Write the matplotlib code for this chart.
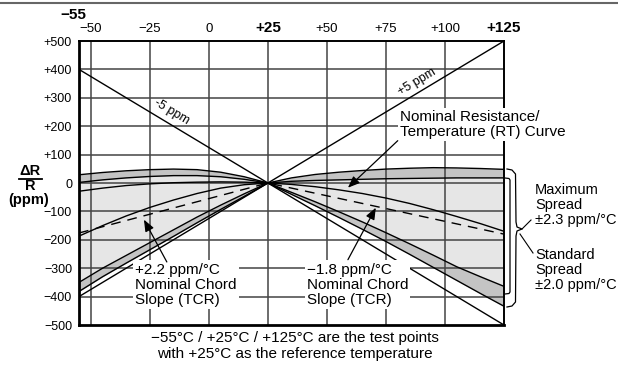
import numpy as np
import matplotlib
matplotlib.use("Agg")
import matplotlib.pyplot as plt
from matplotlib.lines import Line2D

plt.rcParams['font.family'] = ['Liberation Sans', 'DejaVu Sans']

# ---- data ----
temps = [-55, -45, -35, -25, -15, -5, 5, 15, 25, 35, 45, 55, 65, 75, 85, 95, 105, 115, 125]
max_upper = [29, 37, 43, 47, 49, 47, 38, 22, 0, 18, 30, 38, 44, 49, 52, 54, 53, 51, 48]
std_upper = [2, 11, 18, 23, 26, 26, 22, 13, 0, 6, 9, 11, 13, 15, 16, 17, 18, 18, 18]
nominal_rt = [-187, -150, -116, -86, -60, -37, -18, -6, 0, -5, -13, -24, -37, -53, -72, -94, -118, -143, -170]
chord_temps = [-55, 25, 125]
chord_vals = [-176, 0, -180]
std_lower = [-350, -300, -255, -210, -165, -120, -78, -38, 0, -33, -66, -101, -137, -175, -214, -254, -295, -330, -364]
max_lower = [-382, -330, -282, -235, -188, -140, -93, -47, 0, -40, -80, -121, -163, -206, -251, -297, -343, -389, -434]
aux_left = [-29, -18, -9, -3, 1, 3, 4, 3, 0]
plus5 = [-400, 500]
minus5 = [400, -500]
line_temps = [-55, 125]

xticks = [-50, -25, 0, 25, 50, 75, 100, 125]
xtick_labels = ['\u221250', '\u221225', '0', '+25', '+50', '+75', '+100', '+125']
yticks = [500, 400, 300, 200, 100, 0, -100, -200, -300, -400, -500]
ytick_labels = ['+500', '+400', '+300', '+200', '+100', '0', '\u2212100', '\u2212200',
                '\u2212300', '\u2212400', '\u2212500']

W, H = 618, 370
fig = plt.figure(figsize=(W / 100, H / 100), dpi=100)
L, R, T, B = 79, 504, 41, 325
ax = fig.add_axes([L / W, 1 - B / H, (R - L) / W, (B - T) / H])
ax.set_xlim(-55, 125)
ax.set_ylim(-500, 500)

grid_c = '#444444'
for x in [-50, -25, 0, 25, 50, 75, 100]:
    ax.axvline(x, color=grid_c, lw=1.1, zorder=1)
for y in [400, 300, 200, 100, 0, -100, -200, -300, -400]:
    ax.axhline(y, color=grid_c, lw=1.1, zorder=1)

light = '#e6e6e6'
dark = '#c4c4c4'
t = np.array(temps)
ax.fill_between(t, max_lower, max_upper, color=light, zorder=0.5, lw=0)
ax.fill_between(t, std_upper, max_upper, color=dark, zorder=0.6, lw=0)
ax.fill_between(t, max_lower, std_lower, color=dark, zorder=0.6, lw=0)

lk = dict(color='black', lw=1.0, zorder=3)
for s in [max_upper, std_upper, nominal_rt, std_lower, max_lower]:
    ax.plot(t, s, **lk)
ax.plot(temps[:9], aux_left, **lk)
ax.plot(chord_temps, chord_vals, color='black', lw=1.0, dashes=(7, 5), zorder=3)
ax.plot(line_temps, plus5, **lk)
ax.plot(line_temps, minus5, **lk)

for side in ['left', 'bottom']:
    ax.spines[side].set_linewidth(2.0)
for side in ['top', 'right']:
    ax.spines[side].set_linewidth(1.4)

ax.xaxis.tick_top()
ax.set_xticks(xticks)
ax.set_xticklabels(xtick_labels)
ax.tick_params(axis='x', length=0, pad=4, labelsize=9.5)
for lbl in ax.get_xticklabels():
    if lbl.get_text() in ('+25', '+125'):
        lbl.set_fontweight('bold')
        lbl.set_fontsize(11)
ax.set_yticks(yticks)
ax.set_yticklabels(ytick_labels)
ax.tick_params(axis='y', length=0, pad=5, labelsize=9)

fig.text(60 / W, 1 - 15 / H, '\u221255', fontsize=11, fontweight='bold', ha='left', va='center')

# y label
fig.text(30 / W, 1 - 171 / H, '\u0394R', fontsize=10.5, fontweight='bold', ha='center', va='center')
fig.add_artist(Line2D([19 / W, 42 / W], [1 - 178.5 / H, 1 - 178.5 / H], color='black', lw=1.3))
fig.text(30 / W, 1 - 186 / H, 'R', fontsize=10.5, fontweight='bold', ha='center', va='center')
fig.text(29 / W, 1 - 200 / H, '(ppm)', fontsize=10.5, fontweight='bold', ha='center', va='center')

# rotated line labels
ax.text(-15.6, 250, '-5 ppm', rotation=-31, fontsize=9, ha='center', va='center', zorder=4)
ax.text(88, 356, '+5 ppm', rotation=31, fontsize=9, ha='center', va='center', zorder=4)

tb = dict(facecolor='white', edgecolor='none', pad=1.5)
fs = 11
ax.text(80.9, 205, 'Nominal Resistance/\nTemperature (RT) Curve', fontsize=fs, ha='left', va='center',
        linespacing=1.1, bbox=tb, zorder=5)
ax.text(-31.3, -358, '+2.2 ppm/\u00b0C\nNominal Chord\nSlope (TCR)', fontsize=fs, ha='left', va='center',
        linespacing=1.1, bbox=tb, zorder=5)
ax.text(41.5, -358, '\u22121.8 ppm/\u00b0C\nNominal Chord\nSlope (TCR)', fontsize=fs, ha='left', va='center',
        linespacing=1.1, bbox=tb, zorder=5)

ap = dict(arrowstyle='-|>,head_length=0.7,head_width=0.28', color='black', lw=0.9,
          shrinkA=0, shrinkB=0)
ax.annotate('', xy=(58.9, -16.6), xytext=(80, 149), arrowprops=ap, zorder=6)
ax.annotate('', xy=(-27.5, -129), xytext=(-17.8, -278), arrowprops=ap, zorder=6)
ax.annotate('', xy=(70.7, -87), xytext=(58.9, -270), arrowprops=ap, zorder=6)

# right side brackets
def fx(px):
    return px / W
def fy(py):
    return 1 - py / H

# inner square bracket (standard spread)
fig.add_artist(Line2D([fx(505), fx(509), fx(510), fx(510), fx(509), fx(505)],
                      [fy(178), fy(178.5), fy(180), fy(292), fy(293.5), fy(294)], color='black', lw=0.9))
# outer curly brace (maximum spread)
bx = [507, 512, 515.5, 516, 517, 522, 517, 516, 515.5, 512, 507]
by = [169, 170, 174, 222, 227, 229, 231, 236, 302, 306, 307]
fig.add_artist(Line2D([fx(v) for v in bx], [fy(v) for v in by], color='black', lw=0.9))
fig.add_artist(Line2D([fx(522), fx(531)], [fy(229), fy(220)], color='black', lw=0.8))
fig.add_artist(Line2D([fx(520), fx(533)], [fy(234), fy(253)], color='black', lw=0.8))

fig.text(fx(535), fy(205), 'Maximum\nSpread\n\u00b12.3 ppm/\u00b0C', fontsize=10.5, ha='left', va='center',
         linespacing=1.1)
fig.text(fx(535), fy(270), 'Standard\nSpread\n\u00b12.0 ppm/\u00b0C', fontsize=10.5, ha='left', va='center',
         linespacing=1.1)

fig.text(fx(295), fy(346), '\u221255\u00b0C / +25\u00b0C / +125\u00b0C are the test points\n'
         'with +25\u00b0C as the reference temperature', fontsize=11, ha='center', va='center',
         linespacing=1.25)

fig.add_artist(Line2D([0, 1], [fy(2.5), fy(2.5)], color='#666666', lw=1.5))

fig.savefig('out.png', dpi=100)
